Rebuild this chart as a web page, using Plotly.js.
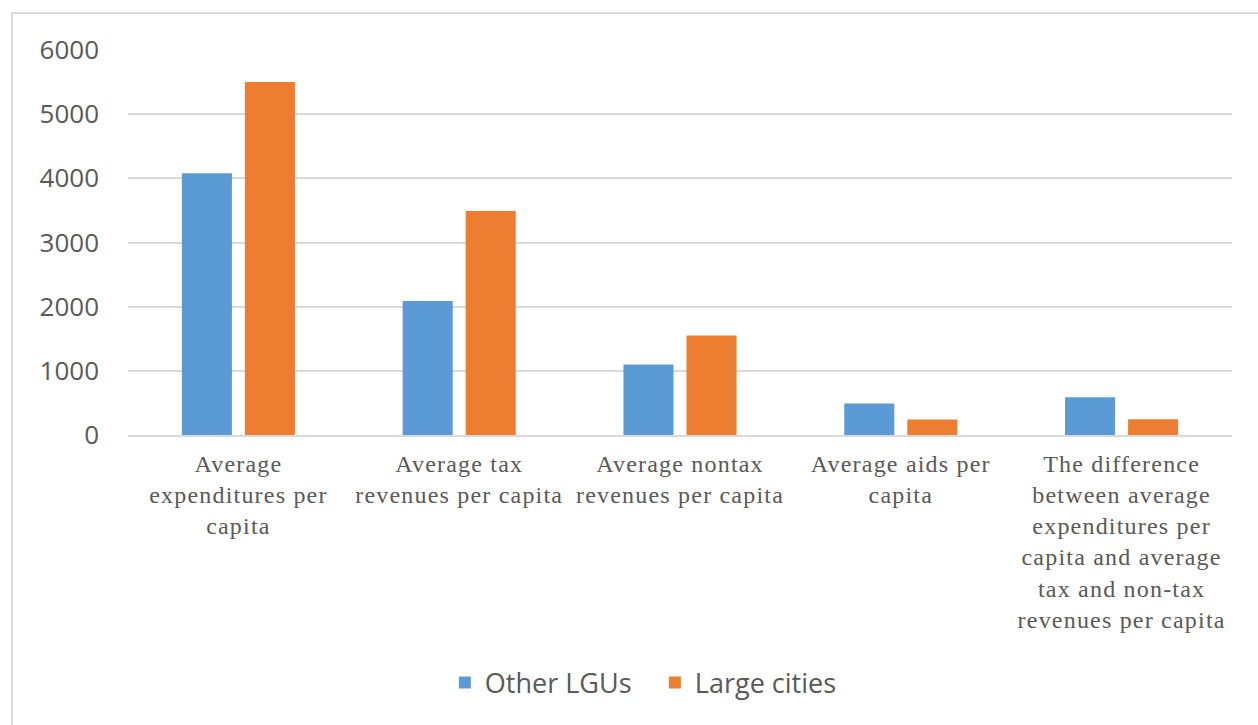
<!DOCTYPE html>
<html>
<head>
<meta charset="utf-8">
<script src="https://cdn.plot.ly/plotly-3.0.1.min.js"></script>
<style>
html,body{margin:0;padding:0;background:#fff;}
#wrap{position:relative;width:1258px;height:725px;overflow:hidden;}
#chart{position:absolute;left:0;top:0;width:1258px;height:725px;}
#frame{position:absolute;left:11px;top:12px;width:1260px;height:740px;border:2px solid #d9d9d9;box-sizing:border-box;pointer-events:none;}
#chart .xtick text{letter-spacing:1.2px;}
</style>
</head>
<body>
<div id="wrap">
<div id="chart"></div>
<div id="frame"></div>
</div>
<script>
const categories = [
  "Average<br>expenditures per<br>capita",
  "Average tax<br>revenues per capita",
  "Average nontax<br>revenues per capita",
  "Average aids per<br>capita",
  "The difference<br>between average<br>expenditures per<br>capita and average<br>tax and non-tax<br>revenues per capita"
];
const otherLGUs = [4080, 2090, 1100, 490, 590];
const largeCities = [5500, 3490, 1550, 240, 245];
const yTicks = [0, 1000, 2000, 3000, 4000, 5000, 6000];

const data = [
  {type:'bar', name:'Other LGUs', x:categories, y:otherLGUs, marker:{color:'#5B9BD5'}},
  {type:'bar', name:'Large cities', x:categories, y:largeCities, marker:{color:'#ED7D31'}}
];
const layout = {
  width:1258, height:725,
  margin:{l:128, r:26, t:50, b:290},
  paper_bgcolor:'#ffffff', plot_bgcolor:'#ffffff',
  barmode:'group', bargap:0.429, bargroupgap:0.206,
  showlegend:true,
  legend:{orientation:'h', x:0.287, xanchor:'left', y:-0.644, yanchor:'middle',
          font:{family:'Open Sans, sans-serif', size:27, color:'#595959'},
          itemwidth:30, entrywidth:165, traceorder:'normal'},
  xaxis:{type:'category', showgrid:false, showline:true, linecolor:'#d9d9d9', linewidth:2,
         ticks:'', tickangle:0, ticklabelstandoff:6,
         tickfont:{family:'Liberation Serif, Times New Roman, serif', size:24, color:'#595959'}},
  yaxis:{range:[0,6000], tickvals:yTicks, ticktext:yTicks.map(String), showgrid:true, gridcolor:'#d9d9d9', gridwidth:2,
         zeroline:false, showline:false, ticks:'', ticklabelstandoff:28,
         tickfont:{family:'Open Sans, sans-serif', size:26, color:'#595959'}},
  font:{family:'Open Sans, sans-serif', color:'#595959'}
};
Plotly.newPlot('chart', data, layout, {displayModeBar:false, staticPlot:true});
</script>
</body>
</html>
